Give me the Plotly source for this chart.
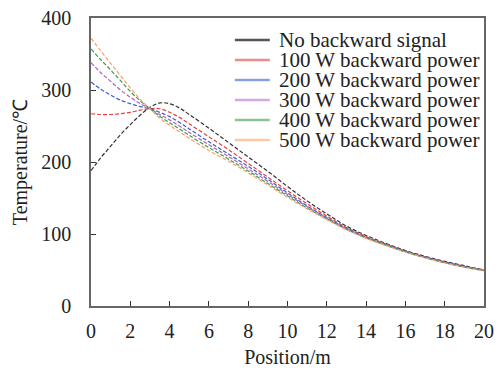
import plotly.graph_objects as go

position = [0, 0.5, 1, 1.5, 2, 2.5, 3, 3.5, 4, 4.5, 5, 6, 7, 8, 9, 10,
            11, 12, 13, 14, 15, 16, 17, 18, 19, 20]

no_backward = [188, 206, 222, 238, 252, 265, 276, 282, 281, 275, 266, 247, 227, 207, 187, 166,
               146, 128, 111, 98, 87, 77, 69, 62, 56, 50]
p100 = [267, 266, 266, 267, 269, 272, 274, 274, 269, 262, 253, 235, 217, 198, 179, 160,
        142, 125, 109, 96.5, 86, 76, 68, 61, 55, 49.5]
p200 = [311, 301, 293, 286, 281, 277, 274, 269, 263, 255, 246, 228, 211, 194, 176, 157,
        139, 123, 108, 95.5, 85, 76, 68, 61, 55, 49.5]
p300 = [338, 324, 312, 300, 290, 281, 274, 266, 258.5, 250, 241, 224, 207.5, 190.5, 173, 155,
        138, 122, 107, 95, 85, 75.5, 67.5, 60.5, 54.5, 49]
p400 = [357, 342, 328, 313, 298, 285, 274, 263.5, 254.5, 246, 237, 220, 204, 187.5, 170, 153,
        136, 121, 106.5, 94.5, 84.5, 75, 67, 60, 54, 49]
p500 = [372, 354, 337, 320, 303, 287, 274, 261, 251, 242, 233, 216, 201, 185, 168, 151,
        135, 120, 106, 94, 84, 75, 67, 60, 54, 49]

series_names = ["No backward signal", "100 W backward power", "200 W backward power",
                "300 W backward power", "400 W backward power", "500 W backward power"]
series_values = [no_backward, p100, p200, p300, p400, p500]
colors = ["#333333", "#e8413c", "#3b5fd0", "#b060c8", "#3f9a4a", "#f4a070"]
legend_colors = ["#555555", "#f08a88", "#8aa0e6", "#d6a6e0", "#8cc494", "#f8c8a8"]

x_ticks = [0, 2, 4, 6, 8, 10, 12, 14, 16, 18, 20]
y_ticks = [0, 100, 200, 300, 400]

font_family = "Liberation Serif"

fig = go.Figure()
for name, vals, col in zip(series_names, series_values, colors):
    fig.add_trace(go.Scatter(
        x=position, y=vals, mode="lines", name=name, showlegend=False,
        line=dict(color=col, width=1.2, dash="4px,2px", shape="spline"),
    ))

# legend drawn as annotations + sample lines
row_top = 0.9235
row_step = 0.0695
for i, (name, col) in enumerate(zip(series_names, legend_colors)):
    yy = row_top - i * row_step
    fig.add_shape(type="line", xref="paper", yref="paper",
                  x0=0.366, x1=0.455, y0=yy, y1=yy,
                  line=dict(color=col, width=2.5))
    fig.add_annotation(xref="paper", yref="paper", x=0.474, y=yy,
                       text=name, showarrow=False, xanchor="left", yanchor="middle",
                       font=dict(family=font_family, size=21, color="#222222"))

axis_common = dict(
    showgrid=False, zeroline=False, showline=True, linecolor="#666666", linewidth=1.5,
    mirror=True, ticks="inside", ticklen=5, tickwidth=1.2, tickcolor="#333333",
    tickfont=dict(family=font_family, size=20, color="#222222"),
    ticklabeloverflow="allow",
)

fig.update_xaxes(range=[0, 20], tickvals=x_ticks, ticklabelstandoff=6,
                 title=dict(text="Position/m", standoff=12,
                            font=dict(family=font_family, size=20, color="#222222")),
                 **axis_common)
fig.update_yaxes(range=[0, 400], tickvals=y_ticks, ticklabelstandoff=14,
                 title=dict(text="Temperature/℃", standoff=8,
                            font=dict(family=font_family, size=20, color="#222222")),
                 **axis_common)

fig.update_layout(
    width=496, height=368,
    margin=dict(l=91, r=12, t=18, b=62, autoexpand=False),
    paper_bgcolor="white", plot_bgcolor="white",
    font=dict(family=font_family),
)

fig.write_html("out.html",
               config={"displayModeBar": False},
               post_script="document.body.style.margin='0';document.body.style.overflow='hidden';")
